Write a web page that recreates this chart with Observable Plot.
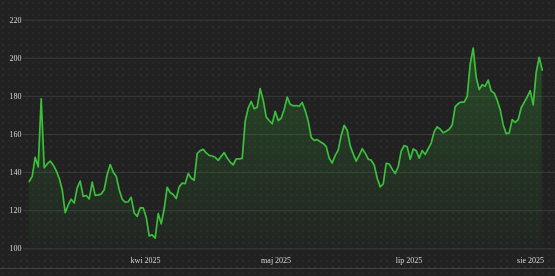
<!DOCTYPE html>
<html>
<head>
<meta charset="utf-8">
<script src="https://cdn.jsdelivr.net/npm/d3@7"></script>
<script src="https://cdn.jsdelivr.net/npm/@observablehq/plot@0.6"></script>
<style>
  html, body { margin: 0; padding: 0; }
  body {
    width: 555px; height: 276px; overflow: hidden; position: relative;
    background-color: #212121;
    background-image: radial-gradient(#292929 0.8px, transparent 0.9px);
    background-size: 6px 6px;
  }
  #chart svg { display: block; background: transparent; will-change: transform; }
  #baseline { position: absolute; left: 0; top: 268px; width: 555px; height: 1px; background: #444; }
</style>
</head>
<body>
<div id="chart"></div>
<div id="baseline"></div>
<script>
// Values per trading-day index (0..171)
const values = [
  135.3, 138, 148, 143, 178.7, 142.5, 144.5, 146, 144, 141,
  137, 131, 119, 123, 126, 124, 132, 135.5, 127.5, 128,
  126.2, 135, 128, 128.3, 128.7, 131, 139, 144.2, 140.2, 138.1,
  131, 126, 124.5, 124.7, 127, 118.8, 117, 121.5, 121.5, 116.6,
  106.8, 107.3, 105.6, 118.5, 113.1, 121, 132.3, 129.5, 128.5, 126.4,
  132.5, 134.5, 134.2, 139.5, 137, 136, 150, 151.5, 152.2, 150.3,
  149, 148.7, 148, 146.4, 148.5, 150.5, 147.6, 145.5, 144.1, 147.2,
  147.2, 147.4, 167, 173.8, 177.3, 173.5, 174.3, 184, 178, 169.1,
  167.3, 165.6, 172.1, 167.3, 168.5, 173.2, 179.6, 175.8, 175, 175.2,
  174.8, 176.8, 172.6, 167, 158.5, 156.9, 157.3, 156.2, 155.3, 153.6,
  147.5, 145, 149, 151.8, 159.5, 164.8, 162.2, 154, 149.8, 146,
  149, 152.5, 150.2, 147, 146.5, 144, 137, 132.5, 134, 144.8,
  144.5, 141.8, 139.5, 143, 151.2, 154.2, 153.5, 147, 152.4, 151.5,
  147.6, 151.6, 149.5, 152.5, 155.5, 161.5, 164, 162.8, 160.9, 161.7,
  162.7, 165, 174.6, 176.2, 177, 177, 180, 197, 205.3, 190,
  183.5, 186.1, 185.3, 188.5, 182.8, 181.7, 178, 173, 165, 160.4,
  160.8, 167.8, 166.3, 167.8, 174, 176.8, 179.7, 183, 175.5, 192.7,
  200.5, 193.8
];
const days = values.map((_, i) => i);

const yTicks = [100, 120, 140, 160, 180, 200, 220];
const tickDays = [38.8, 82.3, 126.6, 167.1];
const tickLabels = ["kwi 2025", "maj 2025", "lip 2025", "sie 2025"];

const data = days.map((d, i) => ({day: d, value: values[i]}));
const yMin = yTicks[0];

function gradientDefs() {
  const ns = "http://www.w3.org/2000/svg";
  const defs = document.createElementNS(ns, "defs");
  const lg = document.createElementNS(ns, "linearGradient");
  lg.setAttribute("id", "areaGrad");
  lg.setAttribute("x1", "0"); lg.setAttribute("y1", "0");
  lg.setAttribute("x2", "0"); lg.setAttribute("y2", "1");
  [["0%", "#3cb93c", 0.28], ["55%", "#3cb93c", 0.13], ["100%", "#3cb93c", 0.03]].forEach(([o, c, a]) => {
    const s = document.createElementNS(ns, "stop");
    s.setAttribute("offset", o);
    s.setAttribute("stop-color", c);
    s.setAttribute("stop-opacity", a);
    lg.appendChild(s);
  });
  defs.appendChild(lg);
  return defs;
}

const chart = Plot.plot({
  width: 555,
  height: 276,
  marginLeft: 23,
  marginRight: 0,
  marginTop: 19.6,
  marginBottom: 27.7,
  style: {background: "transparent", color: "#d4d4d4", fontFamily: "'Liberation Serif', 'DejaVu Serif', serif", fontSize: "8px"},
  x: {type: "linear", domain: [-1.9, 175.43]},
  y: {domain: [100, 220]},
  marks: [
    gradientDefs,
    Plot.ruleY(yTicks, {stroke: "#3a3a3a", strokeWidth: 1}),
    Plot.areaY(data, {x: "day", y1: yMin, y2: "value", fill: "url(#areaGrad)"}),
    Plot.lineY(data, {x: "day", y: "value", stroke: "#3cbf3c", strokeWidth: 1.7, strokeLinejoin: "round"}),
    Plot.axisY({ticks: yTicks, tickSize: 0, tickPadding: 2, label: null, fill: "#d4d4d4"}),
    Plot.axisX({ticks: tickDays, tickFormat: (d, i) => tickLabels[i], tickSize: 0, tickPadding: 9, label: null, fill: "#d4d4d4"})
  ]
});
document.getElementById("chart").appendChild(chart);
</script>
</body>
</html>
